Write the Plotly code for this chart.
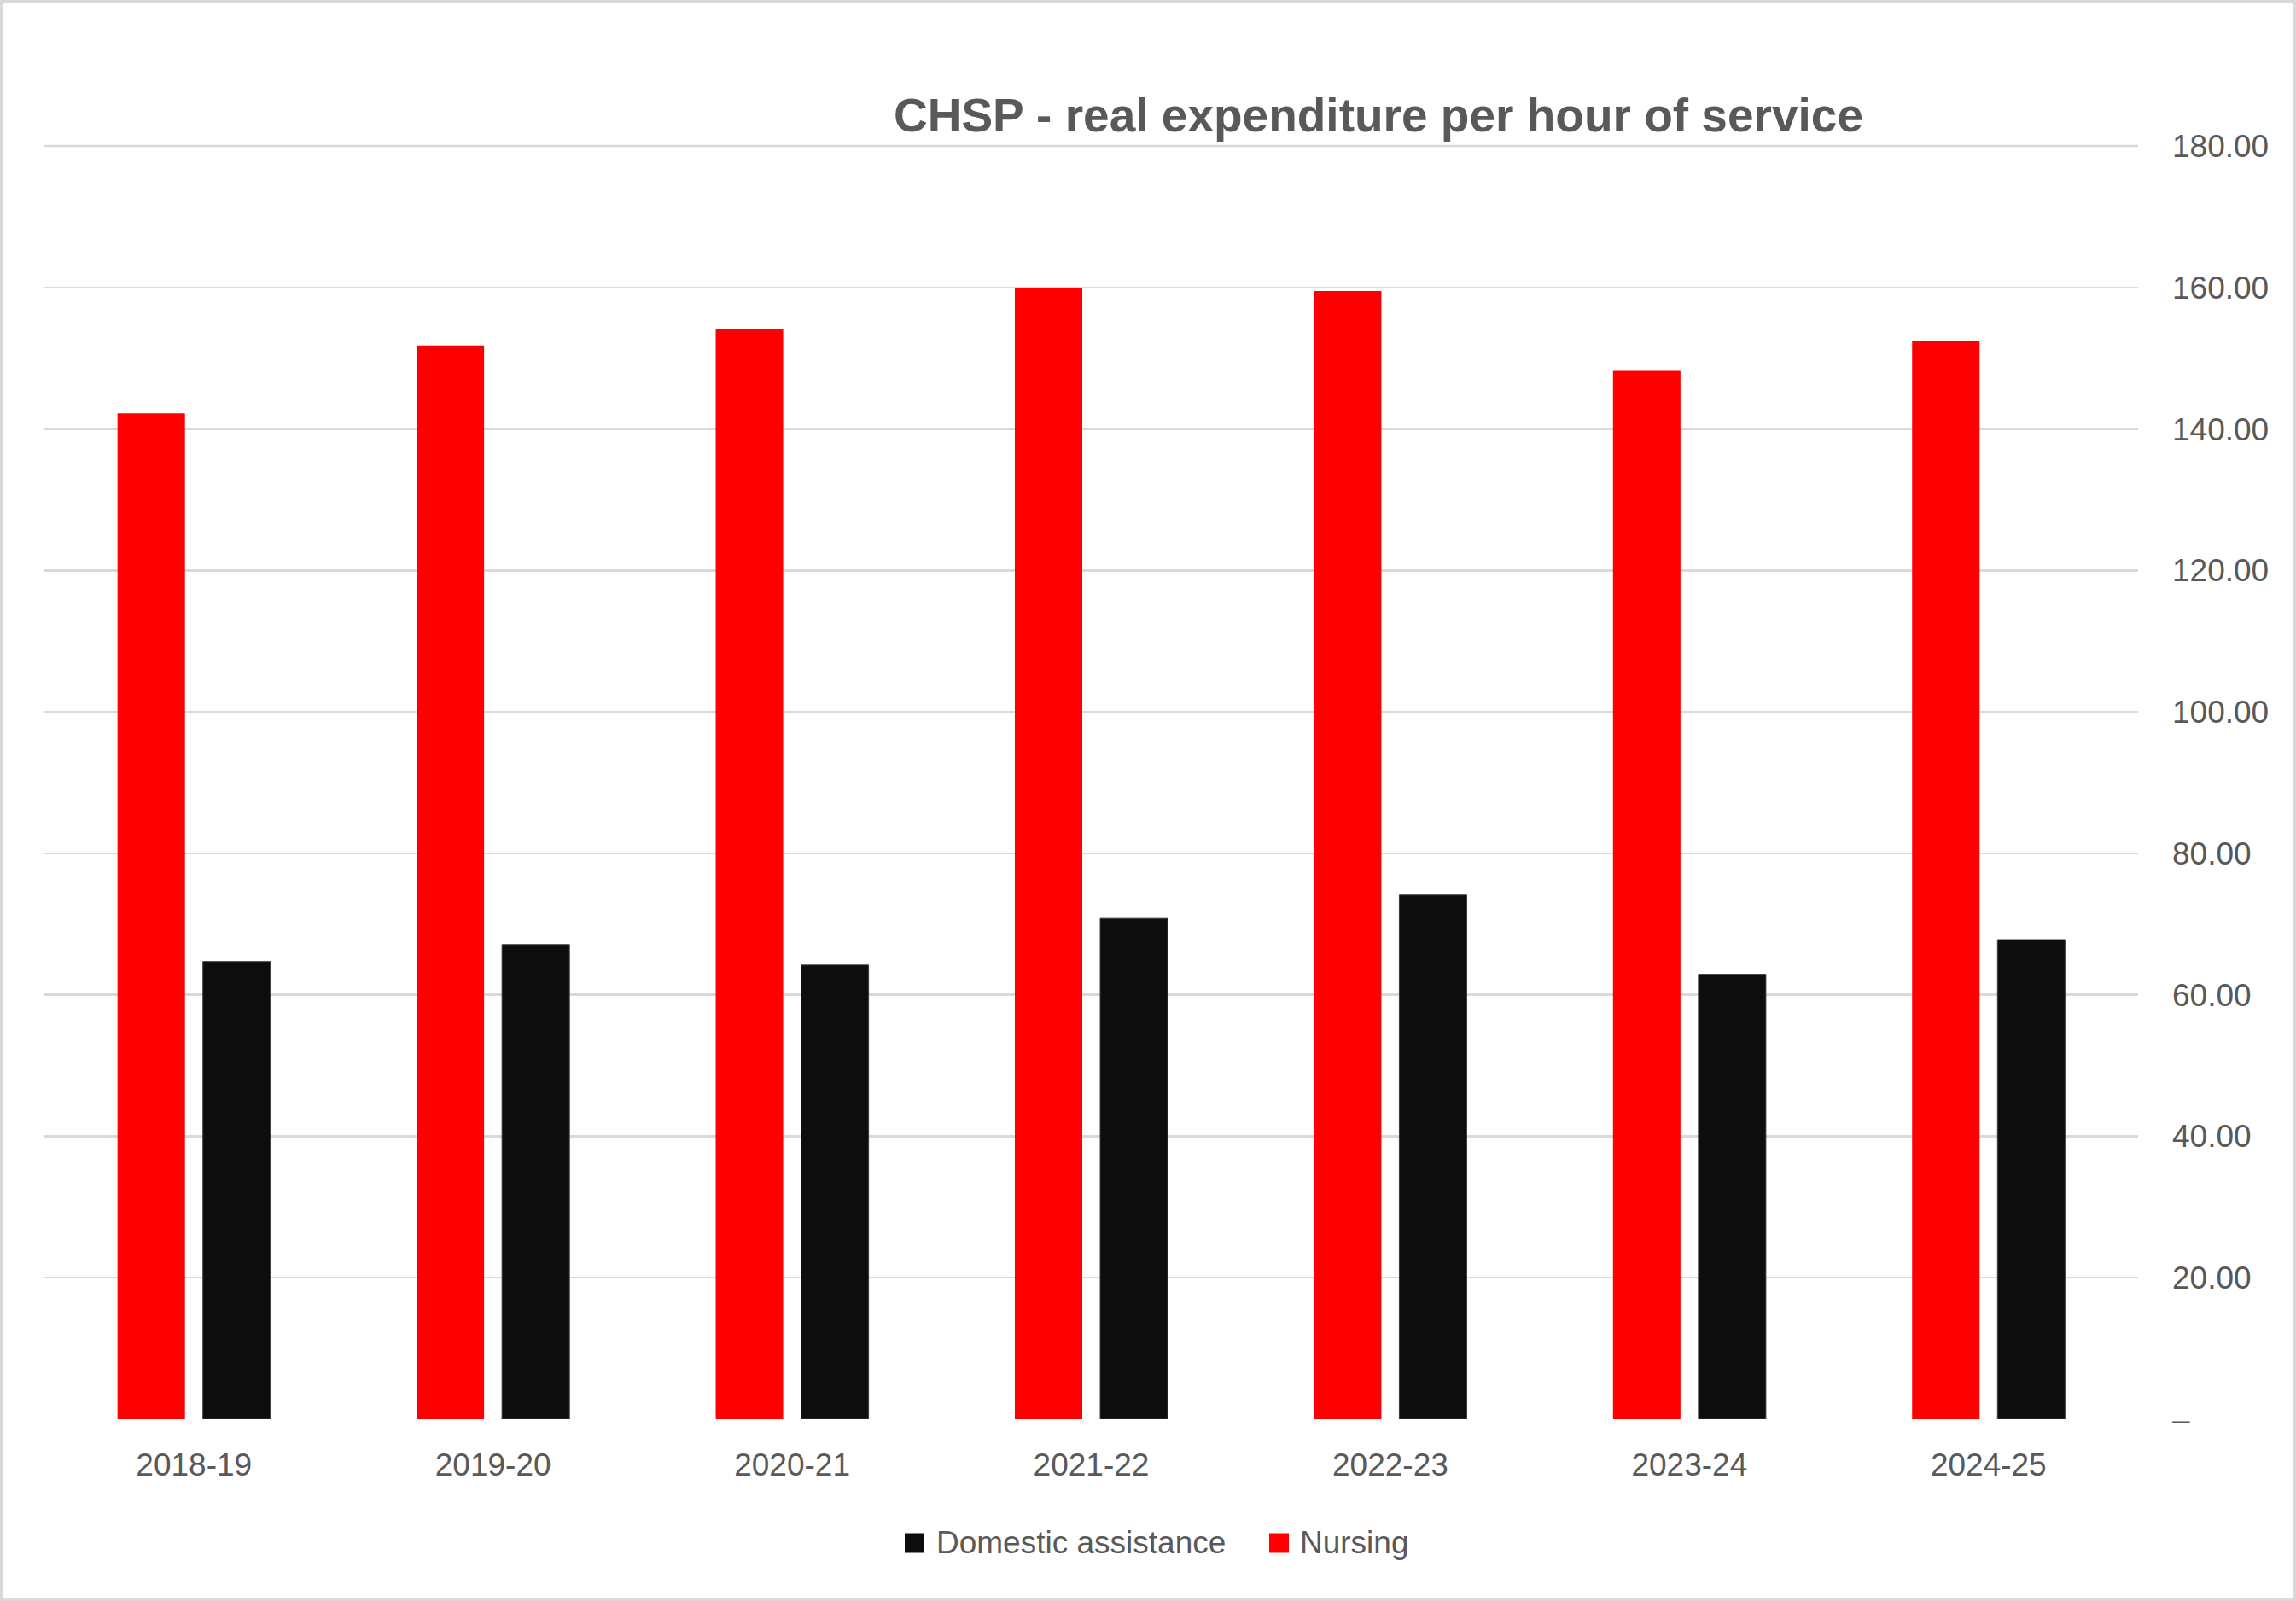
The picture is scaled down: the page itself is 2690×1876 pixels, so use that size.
import plotly.graph_objects as go

# ---------------- data ----------------
years = ["2018-19", "2019-20", "2020-21", "2021-22", "2022-23", "2023-24", "2024-25"]
nursing = [142.2, 151.8, 154.1, 159.9, 159.5, 148.2, 152.5]
domestic = [64.7, 67.1, 64.2, 70.8, 74.1, 62.9, 67.8]
series_names = ["Domestic assistance", "Nursing"]
series_colors = ["#0d0d0d", "#ff0000"]
y_tickvals = [0, 20, 40, 60, 80, 100, 120, 140, 160, 180]
y_ticktext = ["–", "20.00", "40.00", "60.00", "80.00", "100.00", "120.00", "140.00", "160.00", "180.00"]
title_text = "CHSP - real expenditure per hour of service"

# ---------------- layout constants ----------------
W, H = 2690, 1876
ML, MR, MT, MB = 52, 185, 171, 213
PW, PH = W - ML - MR, H - MT - MB
FONT = "Liberation Sans, Arial, sans-serif"
TXT = "#595959"
GRID = "#d9d9d9"


def px_x(px):
    return (px - ML) / PW


def px_y(py):
    return (H - MB - py) / PH


fig = go.Figure()
fig.add_trace(go.Bar(name=series_names[1], x=years, y=nursing,
                     marker=dict(color=series_colors[1], line=dict(width=0)),
                     showlegend=False, hoverinfo="skip"))
fig.add_trace(go.Bar(name=series_names[0], x=years, y=domestic,
                     marker=dict(color=series_colors[0], line=dict(width=1, color="#3a3a3a")),
                     showlegend=False, hoverinfo="skip"))

shapes = []
annotations = []
# top gridline at the axis maximum (plotly omits grid lines on the plot edge);
# the y range ends at the last tick, i.e. at the top of the plot area
shapes.append(dict(type="line", xref="paper", yref="paper", x0=0, x1=1, y0=1, y1=1,
                   line=dict(color=GRID, width=2.5), layer="below"))
# custom legend (square swatches + labels)
legend_items = [(series_names[0], series_colors[0], 1060, 1095),
                (series_names[1], series_colors[1], 1487, 1521)]
ly = 1808
for name, col, sx, tx in legend_items:
    shapes.append(dict(type="rect", xref="paper", yref="paper",
                       x0=px_x(sx), x1=px_x(sx + 23), y0=px_y(ly + 11.5), y1=px_y(ly - 11.5),
                       fillcolor=col, line=dict(width=0)))
    annotations.append(dict(text=name, xref="paper", yref="paper", x=px_x(tx), y=px_y(ly),
                            xanchor="left", yanchor="middle", showarrow=False,
                            font=dict(family=FONT, size=37, color=TXT)))

# chart border
shapes.append(dict(type="rect", xref="paper", yref="paper",
                   x0=px_x(1.5), x1=px_x(W - 1.5), y0=px_y(H - 1.5), y1=px_y(1.5),
                   line=dict(color=GRID, width=3), fillcolor="rgba(0,0,0,0)", layer="below"))

fig.update_layout(
    width=W, height=H,
    margin=dict(l=ML, r=MR, t=MT, b=MB, pad=0),
    paper_bgcolor="white", plot_bgcolor="white",
    barmode="group", bargap=0.429, bargroupgap=0.21,
    showlegend=False,
    title=dict(text=title_text, x=1615 / W, xref="container", xanchor="center",
               y=1 - 135 / H, yref="container", yanchor="middle",
               font=dict(family=FONT, size=55, color=TXT, weight="bold")),
    font=dict(family=FONT, size=37, color=TXT),
    shapes=shapes, annotations=annotations,
    xaxis=dict(type="category", showgrid=False, showline=False, zeroline=False, ticks="",
               tickfont=dict(family=FONT, size=37, color=TXT), ticklabelstandoff=28),
    yaxis=dict(side="right", range=[y_tickvals[0], y_tickvals[-1]], tickvals=y_tickvals,
               ticktext=y_ticktext,
               showgrid=True, gridcolor=GRID, gridwidth=2.5, zeroline=False, showline=False,
               ticks="", tickfont=dict(family=FONT, size=37, color=TXT), ticklabelstandoff=39),
)

fig.write_html("out.html", config={"displayModeBar": False, "staticPlot": True},
               post_script="document.body.style.margin='0';")
